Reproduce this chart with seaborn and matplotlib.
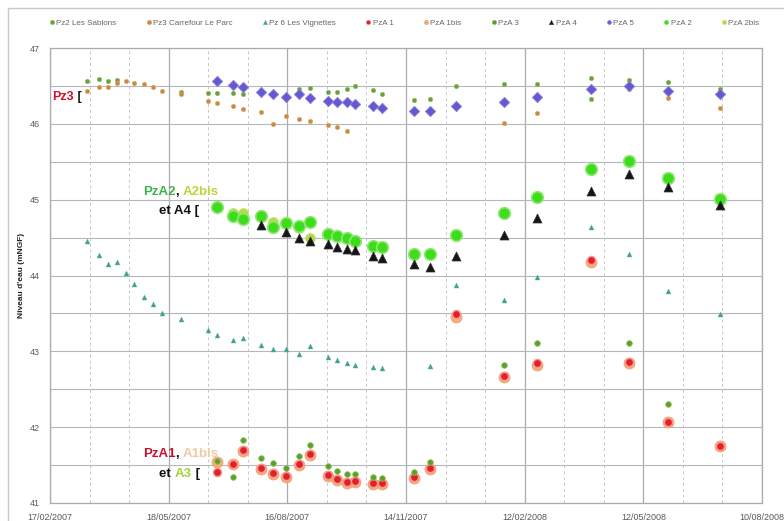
import numpy as np
import pandas as pd
import matplotlib
matplotlib.use("Agg")
import matplotlib.pyplot as plt
import matplotlib.dates as mdates
from matplotlib.lines import Line2D
from matplotlib.patches import Rectangle
import seaborn as sns

# ---------------- data ----------------
pz2_dates = ["17/03/2007", "26/03/2007", "02/04/2007", "09/04/2007", "27/05/2007", "17/06/2007",
             "24/06/2007", "06/07/2007", "13/07/2007", "25/08/2007", "02/09/2007", "16/09/2007",
             "23/09/2007", "30/09/2007", "06/10/2007", "20/10/2007", "27/10/2007", "20/11/2007",
             "02/12/2007", "22/12/2007", "27/01/2008", "21/02/2008", "02/04/2008", "02/04/2008",
             "01/05/2008", "31/05/2008", "09/07/2008"]
pz2_vals = [46.57, 46.59, 46.57, 46.58, 46.42, 46.41, 46.41, 46.41, 46.39, 46.46, 46.47, 46.42,
            46.42, 46.46, 46.50, 46.44, 46.39, 46.32, 46.33, 46.50, 46.53, 46.53, 46.60, 46.33,
            46.58, 46.55, 46.46]

pz3_dates = ["17/03/2007", "26/03/2007", "02/04/2007", "09/04/2007", "16/04/2007", "22/04/2007",
             "29/04/2007", "06/05/2007", "13/05/2007", "27/05/2007", "17/06/2007", "24/06/2007",
             "06/07/2007", "13/07/2007", "27/07/2007", "05/08/2007", "15/08/2007", "25/08/2007",
             "02/09/2007", "16/09/2007", "23/09/2007", "30/09/2007", "27/01/2008", "21/02/2008",
             "01/05/2008", "31/05/2008", "09/07/2008"]
pz3_vals = [46.43, 46.48, 46.49, 46.54, 46.56, 46.54, 46.52, 46.48, 46.43, 46.40, 46.30, 46.28,
            46.24, 46.19, 46.15, 46.00, 46.10, 46.07, 46.04, 45.99, 45.96, 45.91, 46.01, 46.14,
            46.46, 46.34, 46.21]

pz6_dates = ["17/03/2007", "26/03/2007", "02/04/2007", "09/04/2007", "16/04/2007", "22/04/2007",
             "29/04/2007", "06/05/2007", "13/05/2007", "27/05/2007", "17/06/2007", "24/06/2007",
             "06/07/2007", "13/07/2007", "27/07/2007", "05/08/2007", "15/08/2007", "25/08/2007",
             "02/09/2007", "16/09/2007", "23/09/2007", "30/09/2007", "06/10/2007", "20/10/2007",
             "27/10/2007", "02/12/2007", "22/12/2007", "27/01/2008", "21/02/2008", "02/04/2008",
             "01/05/2008", "31/05/2008", "09/07/2008"]
pz6_vals = [44.46, 44.27, 44.15, 44.18, 44.03, 43.89, 43.72, 43.62, 43.51, 43.43, 43.28, 43.21,
            43.15, 43.18, 43.08, 43.03, 43.03, 42.96, 43.07, 42.93, 42.89, 42.84, 42.82, 42.79,
            42.78, 42.81, 43.87, 43.68, 43.98, 44.64, 44.28, 43.79, 43.49]

pza_dates = ["24/06/2007", "06/07/2007", "13/07/2007", "27/07/2007", "05/08/2007", "15/08/2007",
             "25/08/2007", "02/09/2007", "16/09/2007", "23/09/2007", "30/09/2007", "06/10/2007",
             "20/10/2007", "27/10/2007", "20/11/2007", "02/12/2007", "22/12/2007", "27/01/2008",
             "21/02/2008", "02/04/2008", "01/05/2008", "31/05/2008", "09/07/2008"]
pza1_vals = [41.41, 41.52, 41.70, 41.46, 41.39, 41.36, 41.51, 41.64, 41.37, 41.31, 41.28, 41.29,
             41.26, 41.26, 41.34, 41.46, 43.49, 42.68, 42.84, 44.21, 42.86, 42.07, 41.75]
pza1bis_vals = [41.54, 41.51, 41.69, 41.45, 41.38, 41.34, 41.50, 41.63, 41.36, 41.30, 41.27, 41.28,
                41.25, 41.25, 41.33, 41.45, 43.45, 42.66, 42.82, 44.18, 42.84, 42.07, 41.75]
pza2_vals = [44.90, 44.78, 44.74, 44.78, 44.64, 44.69, 44.65, 44.71, 44.55, 44.52, 44.49, 44.45,
             44.39, 44.37, 44.29, 44.29, 44.54, 44.83, 45.03, 45.40, 45.51, 45.28, 45.01]
pza5_vals = [46.56, 46.51, 46.48, 46.42, 46.39, 46.36, 46.40, 46.34, 46.30, 46.29, 46.29, 46.26,
             46.24, 46.21, 46.17, 46.17, 46.23, 46.29, 46.35, 46.46, 46.50, 46.43, 46.39]

pza2bis_dates = pza_dates[:17]
pza2bis_vals = [44.90, 44.83, 44.83, 44.80, 44.71, 44.68, 44.62, 44.49, 44.55, 44.53, 44.49, 44.45,
                44.38, 44.36, 44.28, 44.28, 44.52]

pza3_dates = ["24/06/2007", "06/07/2007", "13/07/2007", "27/07/2007", "05/08/2007", "15/08/2007",
              "25/08/2007", "02/09/2007", "16/09/2007", "23/09/2007", "30/09/2007", "06/10/2007",
              "20/10/2007", "27/10/2007", "20/11/2007", "02/12/2007", "27/01/2008", "21/02/2008",
              "01/05/2008", "31/05/2008"]
pza3_vals = [41.56, 41.34, 41.83, 41.60, 41.53, 41.46, 41.62, 41.76, 41.49, 41.42, 41.38, 41.38,
             41.34, 41.33, 41.41, 41.54, 42.82, 43.11, 43.11, 42.30]

pza4_dates = ["27/07/2007", "15/08/2007", "25/08/2007", "02/09/2007", "16/09/2007", "23/09/2007",
              "30/09/2007", "06/10/2007", "20/10/2007", "27/10/2007", "20/11/2007", "02/12/2007",
              "22/12/2007", "27/01/2008", "21/02/2008", "02/04/2008", "01/05/2008", "31/05/2008",
              "09/07/2008"]
pza4_vals = [44.66, 44.57, 44.50, 44.46, 44.42, 44.38, 44.35, 44.33, 44.26, 44.23, 44.15, 44.11,
             44.26, 44.54, 44.76, 45.11, 45.34, 45.17, 44.93]

series_labels = ["Pz2 Les Sablons", "Pz3 Carrefour Le Parc", "Pz 6 Les Vignettes", "PzA 1",
                 "PzA 1bis", "PzA 3", "PzA 4", "PzA 5", "PzA 2", "PzA 2bis"]

xtick_labels = ["17/02/2007", "18/05/2007", "16/08/2007", "14/11/2007", "12/02/2008",
                "12/05/2008", "10/08/2008"]
ytick_vals = [41, 42, 43, 44, 45, 46, 47]

# ---------------- figure ----------------
sns.set_style("white")
plt.rcParams["font.family"] = ["Liberation Sans", "DejaVu Sans"]

W, H = 784, 521
fig = plt.figure(figsize=(W / 100, H / 100), dpi=100)
ax = fig.add_axes([50 / W, 1 - 503 / H, 712 / W, 455 / H])

def d(lst):
    return pd.to_datetime(pd.Series(lst), format="%d/%m/%Y")

# style per series: (marker, size, face, edge, lw, zorder)
styles = {
    "Pz2 Les Sablons": ("o", 10, "#6f9e3e", "#8cbf5a", 0.4, 3),
    "Pz3 Carrefour Le Parc": ("o", 10, "#c98a45", "#e0a865", 0.4, 3),
    "Pz 6 Les Vignettes": ("^", 13, "#3f9e8c", "#69b8a8", 0.3, 3),
    "PzA 1": ("o", 34, "#e3202a", "#f59a90", 1.0, 5),
    "PzA 1bis": ("o", 62, "#f4ad7c", "#f0a070", 0.6, 4),
    "PzA 3": ("o", 16, "#5e9c34", "#86c24f", 0.6, 6),
    "PzA 4": ("^", 42, "#151515", "#303030", 0.5, 7),
    "PzA 5": ("D", 28, "#6559cf", "#8b80e0", 0.6, 4),
    "PzA 2": ("o", 70, "#3ddc1c", "#8ee870", 1.2, 5),
    "PzA 2bis": ("o", 52, "#b7d84a", "#cfe580", 0.6, 4),
}

data = {
    "Pz2 Les Sablons": (pz2_dates, pz2_vals),
    "Pz3 Carrefour Le Parc": (pz3_dates, pz3_vals),
    "Pz 6 Les Vignettes": (pz6_dates, pz6_vals),
    "PzA 1": (pza_dates, pza1_vals),
    "PzA 1bis": (pza_dates, pza1bis_vals),
    "PzA 3": (pza3_dates, pza3_vals),
    "PzA 4": (pza4_dates, pza4_vals),
    "PzA 5": (pza_dates, pza5_vals),
    "PzA 2": (pza_dates, pza2_vals),
    "PzA 2bis": (pza2bis_dates, pza2bis_vals),
}

handles = []
for lab in series_labels:
    dts, vals = data[lab]
    m, s, fc, ec, lw, z = styles[lab]
    sns.scatterplot(x=d(dts), y=vals, ax=ax, marker=m, s=s, color=fc, edgecolor=ec,
                    linewidth=lw, zorder=z, legend=False)
    handles.append(Line2D([], [], linestyle="none", marker=m, markersize=3.2 if m != "D" else 2.6,
                          markerfacecolor=fc, markeredgecolor=ec, markeredgewidth=0.3))

# axes limits / ticks
xt = pd.to_datetime(pd.Series(xtick_labels), format="%d/%m/%Y")
ax.set_xlim(xt.iloc[0], xt.iloc[-1])
ax.set_ylim(41, 47)
ax.set_xticks(xt)
ax.set_xticklabels(xtick_labels)
minor_x = pd.date_range(xt.iloc[0], xt.iloc[-1], freq="30D")
ax.set_xticks(minor_x, minor=True)
ax.set_yticks(ytick_vals)
ax.set_yticks(np.arange(41, 47.01, 0.5), minor=True)

ax.grid(True, which="major", axis="x", color="#a9adb2", lw=0.9, ls="-")
ax.grid(True, which="minor", axis="x", color="#c8c8c8", lw=0.7, ls=(0, (3, 3)))
ax.grid(True, which="both", axis="y", color="#b4b8bc", lw=0.8, ls="-")
ax.set_axisbelow(True)

ax.tick_params(axis="both", which="major", labelsize=6.5, labelcolor="#5a5a5a",
               color="#9a9a9a", length=4, width=0.8, direction="out")
ax.tick_params(axis="x", which="major", pad=3)
ax.tick_params(axis="both", which="minor", length=0)
for sp in ax.spines.values():
    sp.set_color("#a8acb0")
    sp.set_linewidth(0.9)

ax.set_xlabel("")
ax.set_ylabel("Niveau d'eau (mNGF)", fontsize=6, fontweight="bold", color="#222222", labelpad=3)

# legend
fig.legend(handles, series_labels, loc="center", bbox_to_anchor=(404 / W, 1 - 23 / H),
           ncol=10, frameon=False, fontsize=5.8, handletextpad=0.15, columnspacing=3.6,
           handlelength=0.8, labelcolor="#666666")

# outer frame
fig.patches.append(Rectangle((8 / W, -0.1), 1.2, 1 - 8 / H + 0.1, transform=fig.transFigure,
                             fill=False, edgecolor="#c8c8c8", lw=1.0))

# annotations (multi-coloured labels)
def chain(parts, x_px, y_px, fs=9.5):
    t = fig.text(x_px / W, 1 - y_px / H, parts[0][0], color=parts[0][1], fontsize=fs,
                 fontweight="bold", va="center", ha="left")
    for s, c in parts[1:]:
        t = ax.annotate(s, xy=(1, 0.5), xycoords=t, va="center", ha="left",
                        color=c, fontsize=fs, fontweight="bold")

chain([("Pz3", "#d0102c"), (" [", "#111111")], 52, 97, fs=9)
chain([("PzA2", "#3cb44a"), (", ", "#111111"), ("A2bis", "#b9d63a")], 143, 192)
chain([("et A4 [", "#111111")], 159, 211)
chain([("PzA1", "#c8102e"), (", ", "#111111"), ("A1bis", "#f1c9a0")], 143, 454)
chain([("et ", "#111111"), ("A3", "#a6d13a"), (" [", "#111111")], 159, 474)

fig.savefig("out.png", dpi=100, facecolor="white")
